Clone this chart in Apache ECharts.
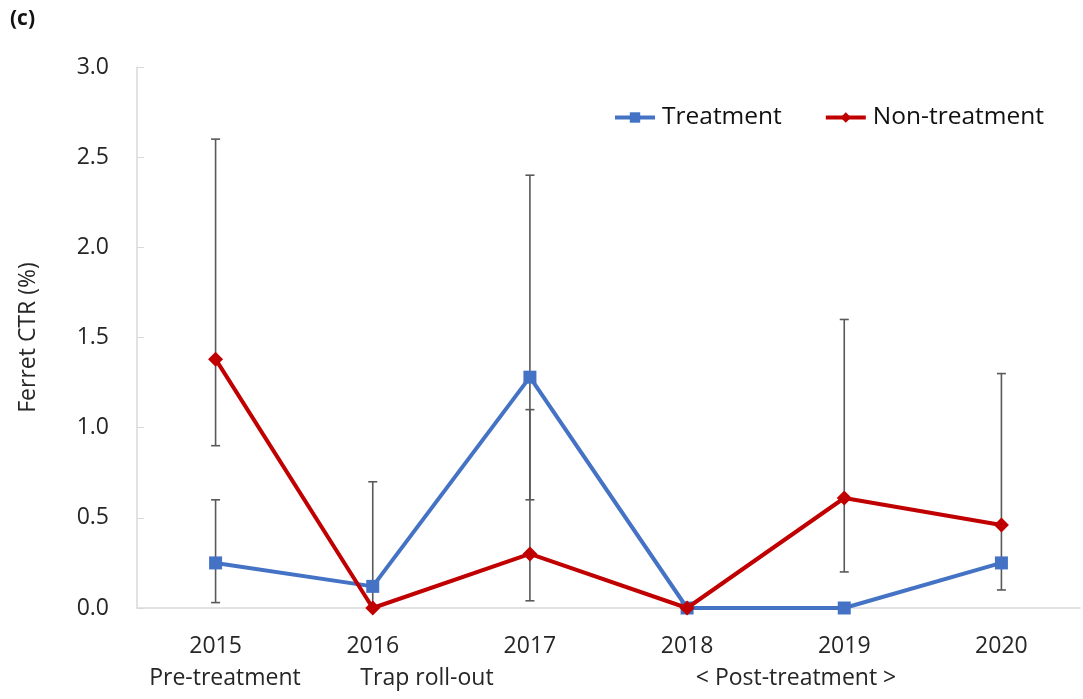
<!DOCTYPE html>
<html>
<head>
<meta charset="utf-8">
<script src="https://cdn.jsdelivr.net/npm/echarts@6/dist/echarts.min.js"></script>
<style>
  html, body { margin: 0; padding: 0; background: #fff; }
  #chart { width: 1083px; height: 699px; }
</style>
</head>
<body>
<div id="chart"></div>
<script>
// Ferret catch-per-trap rate by year, treatment vs non-treatment sites
const categories = ['2015', '2016', '2017', '2018', '2019', '2020'];
const treatment = [0.25, 0.12, 1.28, 0, 0, 0.25];
const nonTreatment = [1.38, 0, 0.30, 0, 0.61, 0.46];
// Confidence ranges [low, high]; null where no bar is shown
const treatmentCI = [[0.03, 0.6], [0, 0.7], [0.6, 2.4], null, null, null];
const nonTreatmentCI = [[0.9, 2.6], null, [0.04, 1.1], null, [0.2, 1.6], [0.1, 1.3]];
const yTicks = { min: 0, max: 3, interval: 0.5 };
const phaseLabels = ['Pre-treatment', 'Trap roll-out', '< Post-treatment >'];

const FONT = '"Open Sans", "Noto Sans", sans-serif';
const TEXT = '#262626';

function ciData(ci) {
  const out = [];
  ci.forEach((r, i) => { if (r) out.push([i, r[0], r[1]]); });
  return out;
}

function renderErrorBar(params, api) {
  const lo = api.coord([api.value(0), api.value(1)]);
  const hi = api.coord([api.value(0), api.value(2)]);
  const cap = 4.5;
  const style = { stroke: '#595959', lineWidth: 1.6 };
  return {
    type: 'group',
    children: [
      { type: 'line', shape: { x1: lo[0], y1: lo[1], x2: hi[0], y2: hi[1] }, style },
      { type: 'line', shape: { x1: hi[0] - cap, y1: hi[1], x2: hi[0] + cap, y2: hi[1] }, style },
      { type: 'line', shape: { x1: lo[0] - cap, y1: lo[1], x2: lo[0] + cap, y2: lo[1] }, style }
    ]
  };
}

const chart = echarts.init(document.getElementById('chart'));
chart.setOption({
  animation: false,
  textStyle: { fontFamily: FONT },
  grid: { left: 137, right: 3, top: 67, bottom: 91 },
  legend: {
    left: 608, top: 100,
    itemWidth: 40, itemHeight: 13, itemGap: 42,
    lineStyle: { width: 4 },
    textStyle: { fontSize: 24.5, color: '#111', fontFamily: FONT, padding: [0, 0, 0, 2] },
    data: ['Treatment', 'Non-treatment']
  },
  xAxis: {
    type: 'category',
    data: categories,
    boundaryGap: true,
    axisLine: { lineStyle: { color: '#d9d9d9', width: 1.5 } },
    axisTick: { show: false },
    axisLabel: { fontSize: 23, color: TEXT, margin: 27, fontFamily: FONT }
  },
  yAxis: {
    type: 'value',
    min: yTicks.min, max: yTicks.max, interval: yTicks.interval,
    name: 'Ferret CTR (%)',
    nameLocation: 'middle',
    nameGap: 97,
    nameTextStyle: { fontSize: 23, color: TEXT, fontFamily: FONT },
    axisLine: { show: true, lineStyle: { color: '#d9d9d9', width: 1.5 } },
    axisTick: { show: true, inside: true, length: 7, lineStyle: { color: '#d9d9d9' } },
    splitLine: { show: false },
    axisLabel: { fontSize: 23, color: TEXT, margin: 28, fontFamily: FONT,
      formatter: v => v.toFixed(1) }
  },
  graphic: [
    { type: 'text', left: 10, top: 9,
      style: { text: '(c)', font: 'bold 21px ' + FONT, fill: '#111' } },
    { type: 'text', x: 225, y: 678,
      style: { text: phaseLabels[0], font: '23px ' + FONT, fill: TEXT, textAlign: 'center', textVerticalAlign: 'middle' } },
    { type: 'text', x: 427, y: 678,
      style: { text: phaseLabels[1], font: '23px ' + FONT, fill: TEXT, textAlign: 'center', textVerticalAlign: 'middle' } },
    { type: 'text', x: 796, y: 678,
      style: { text: phaseLabels[2], font: '23px ' + FONT, fill: TEXT, textAlign: 'center', textVerticalAlign: 'middle' } }
  ],
  series: [
    { type: 'custom', name: 'Treatment CI', renderItem: renderErrorBar,
      data: ciData(treatmentCI), z: 1, silent: true, encode: { x: 0, y: [1, 2] } },
    { type: 'custom', name: 'Non-treatment CI', renderItem: renderErrorBar,
      data: ciData(nonTreatmentCI), z: 1, silent: true, encode: { x: 0, y: [1, 2] } },
    { type: 'line', name: 'Treatment', data: treatment, z: 3,
      symbol: 'rect', symbolSize: 13,
      lineStyle: { color: '#4472C4', width: 4 },
      itemStyle: { color: '#4472C4' } },
    { type: 'line', name: 'Non-treatment', data: nonTreatment, z: 4,
      symbol: 'diamond', symbolSize: 15,
      lineStyle: { color: '#C00000', width: 4 },
      itemStyle: { color: '#C00000' } }
  ]
});
</script>
</body>
</html>
